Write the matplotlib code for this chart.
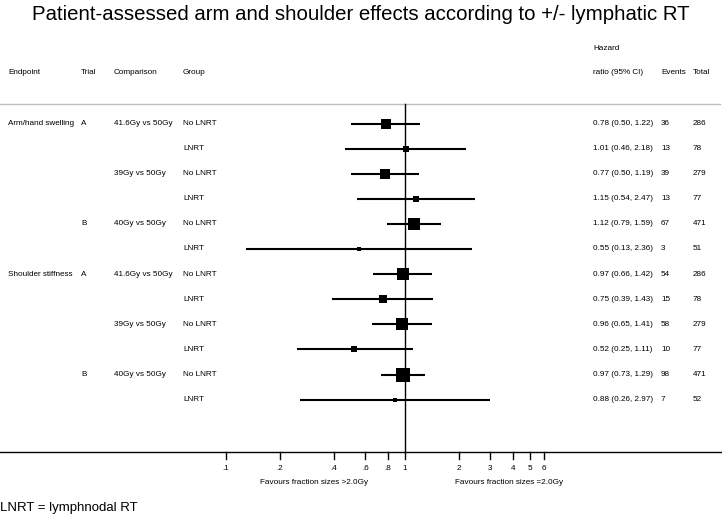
import numpy as np
import matplotlib
matplotlib.use("Agg")
import matplotlib.pyplot as plt
from matplotlib.transforms import blended_transform_factory

plt.rcParams['font.family'] = ['Liberation Sans', 'DejaVu Sans']

# data
endpoint = ["Arm/hand swelling", "", "", "", "", "",
            "Shoulder stiffness", "", "", "", "", ""]
trial = ["A", "", "", "", "B", "", "A", "", "", "", "B", ""]
comparison = ["41.6Gy vs 50Gy", "", "39Gy vs 50Gy", "", "40Gy vs 50Gy", "",
              "41.6Gy vs 50Gy", "", "39Gy vs 50Gy", "", "40Gy vs 50Gy", ""]
group = ["No LNRT", "LNRT"] * 6
hr = [0.78, 1.01, 0.77, 1.15, 1.12, 0.55, 0.97, 0.75, 0.96, 0.52, 0.97, 0.88]
lo = [0.50, 0.46, 0.50, 0.54, 0.79, 0.13, 0.66, 0.39, 0.65, 0.25, 0.73, 0.26]
hi = [1.22, 2.18, 1.19, 2.47, 1.59, 2.36, 1.42, 1.43, 1.41, 1.11, 1.29, 2.97]
events = [36, 13, 39, 13, 67, 3, 54, 15, 58, 10, 98, 7]
total = [286, 78, 279, 77, 471, 51, 286, 78, 279, 77, 471, 52]
tick_vals = [0.1, 0.2, 0.4, 0.6, 0.8, 1, 2, 3, 4, 5, 6]
tick_labels = [".1", ".2", ".4", ".6", ".8", "1", "2", "3", "4", "5", "6"]

W, H = 722, 519
fig = plt.figure(figsize=(W / 100, H / 100), dpi=100)
ax = fig.add_axes([0, 0, 1, 1])
ax.axis("off")
ax.set_xscale("log")
# 0.1 sits at x=226px, one decade = 179px
x0, dec = 226, 179
ax.set_xlim(10 ** (-1 - x0 / dec), 10 ** (-1 + (W - x0) / dec))
ax.set_ylim(H, 0)  # y in pixels from top
tr = blended_transform_factory(ax.transAxes, ax.transData)

def px(x):
    return x / W

fs = 5.9
n = len(hr)
ys = 123.5 + 25.1 * np.arange(n)

# title and header
fig.text(0.5, 1 - 15 / H, "Patient-assessed arm and shoulder effects according to +/- lymphatic RT",
         ha="center", va="center", fontsize=14.7)
for lab, x in [("Endpoint", 8), ("Trial", 81), ("Comparison", 114), ("Group", 183),
               ("ratio (95% CI)", 593), ("Events", 661), ("Total", 693)]:
    ax.text(px(x), 73, lab, transform=tr, fontsize=fs, va="center")
ax.text(px(593), 48, "Hazard", transform=tr, fontsize=fs, va="center")
ax.plot([0, 0.997], [104, 104], transform=tr, color="#bdbdbd", lw=1)

# reference line and axis
ax.plot([1, 1], [104, 452], color="black", lw=1)
ax.plot([0, 1], [452, 452], transform=tr, color="black", lw=1)
for v, l in zip(tick_vals, tick_labels):
    ax.plot([v, v], [452, 459], color="black", lw=1)
    ax.text(v, 468, l, fontsize=fs, ha="center", va="center")
ax.text(px(314), 483, "Favours fraction sizes >2.0Gy", transform=tr, fontsize=fs,
        ha="center", va="center")
ax.text(px(509), 483, "Favours fraction sizes =2.0Gy", transform=tr, fontsize=fs,
        ha="center", va="center")
ax.text(0, 508, "LNRT = lymphnodal RT", transform=tr, fontsize=9.5, va="center")

# box size from inverse-variance weight
se = (np.log(hi) - np.log(lo)) / (2 * 1.96)
w = 1 / se ** 2
side_px = 10 * (w / w[0]) ** 0.4

for i in range(n):
    y = ys[i]
    ax.plot([lo[i], hi[i]], [y, y], color="black", lw=1.5, solid_capstyle="butt")
    ax.plot(hr[i], y, marker="s", color="black", markersize=side_px[i] * 0.72,
            markeredgewidth=0)
    for lab, x in [(endpoint[i], 8), (trial[i], 81), (comparison[i], 114), (group[i], 183),
                   (f"{hr[i]:.2f} ({lo[i]:.2f}, {hi[i]:.2f})", 593),
                   (str(events[i]), 661), (str(total[i]), 693)]:
        if lab:
            ax.text(px(x), y, lab, transform=tr, fontsize=fs, va="center")

fig.savefig("out.png", dpi=100)
